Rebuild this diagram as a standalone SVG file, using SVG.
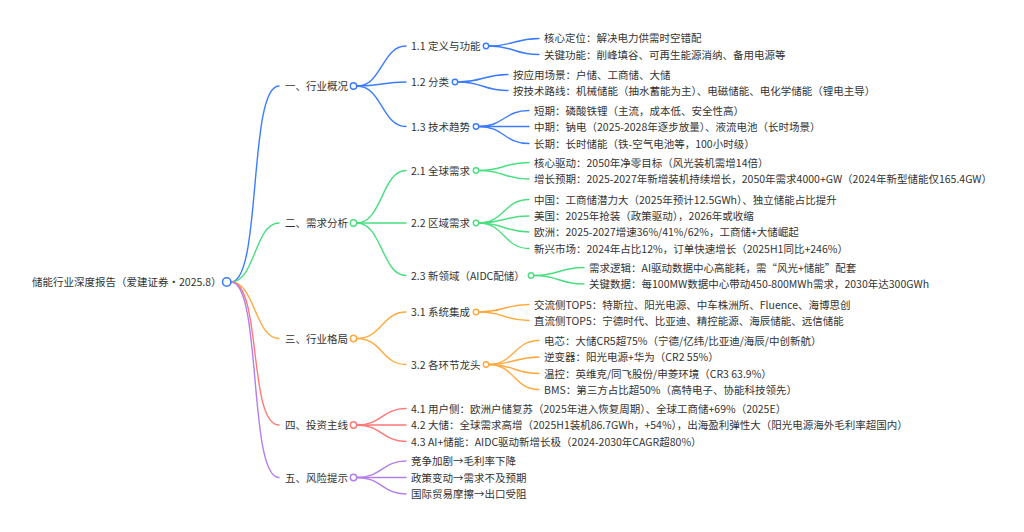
<svg xmlns="http://www.w3.org/2000/svg" width="1024" height="532" viewBox="0 0 1024 532">
<style>
text{font-family:"Noto Sans CJK SC","Noto Sans",sans-serif;font-size:10.5px;fill:#333}
path{fill:none;stroke-width:1.4;stroke-linecap:round}
circle{fill:#fff;stroke-width:1.4}
.b{stroke:#3b7cff}.g{stroke:#4ade80}.o{stroke:#ffa940}.r{stroke:#ff7875}.p{stroke:#b37feb}
</style>
<rect width="1024" height="532" fill="#fff"/>
<g id="connectors">
<path class="b" d="M231 282C262 282 248 86 279 86"/>
<path class="g" d="M231 282C255 282 255 223 279 223"/>
<path class="o" d="M231 282C255 282 255 338.500 279 338.500"/>
<path class="r" d="M231 282C262 282 248 425 279 425"/>
<path class="p" d="M231 282C262 282 248 477.500 279 477.500"/>
<path class="b" d="M357 86C382 86 382 46 406 46"/><path class="b" d="M357 86C382 86 382 82 406 82"/><path class="b" d="M357 86C382 86 382 126.500 406 126.500"/>
<path class="g" d="M357 223C382 223 382 170.500 406 170.500"/><path class="g" d="M357 223H406"/><path class="g" d="M357 223C382 223 382 275.500 406 275.500"/>
<path class="o" d="M357 338.500C382 338.500 382 312 406 312"/><path class="o" d="M357 338.500C382 338.500 382 364.500 406 364.500"/>
<path class="r" d="M357 425C382 425 382 408.500 406 408.500"/><path class="r" d="M357 425H406"/><path class="r" d="M357 425C382 425 382 441.500 406 441.500"/>
<path class="p" d="M357 477.500C382 477.500 382 461 406 461"/><path class="p" d="M357 477.500H406"/><path class="p" d="M357 477.500C382 477.500 382 494 406 494"/>
<path class="b" d="M489 46C514 46 514 38.500 539 38.500"/><path class="b" d="M489 46C514 46 514 54.500 539 54.500"/>
<path class="b" d="M458 82C483 82 483 74.500 508 74.500"/><path class="b" d="M458 82C483 82 483 90.500 508 90.500"/>
<path class="b" d="M479 126.500C504 126.500 504 110.500 529 110.500"/><path class="b" d="M479 126.500H529"/><path class="b" d="M479 126.500C504 126.500 504 143.500 529 143.500"/>
<path class="g" d="M479 170.500C504 170.500 504 162.500 529 162.500"/><path class="g" d="M479 170.500C504 170.500 504 179 529 179"/>
<path class="g" d="M479 223C504 223 504 199.500 529 199.500"/><path class="g" d="M479 223C504 223 504 216 529 216"/><path class="g" d="M479 223C504 223 504 232 529 232"/><path class="g" d="M479 223C504 223 504 248.500 529 248.500"/>
<path class="g" d="M534 275.500C559 275.500 559 267.500 584 267.500"/><path class="g" d="M534 275.500C559 275.500 559 284 584 284"/>
<path class="o" d="M479 312C504 312 504 304.500 529 304.500"/><path class="o" d="M479 312C504 312 504 320.500 529 320.500"/>
<path class="o" d="M489 364.500C514 364.500 514 340.500 539 340.500"/><path class="o" d="M489 364.500C514 364.500 514 357 539 357"/><path class="o" d="M489 364.500C514 364.500 514 373.500 539 373.500"/><path class="o" d="M489 364.500C514 364.500 514 389.500 539 389.500"/>
</g>
<g id="root"><text x="32" y="286">储能行业深度报告（爱建证券·2025.8）</text><circle class="b" cx="226.700" cy="282" r="4.200" style="stroke-width:1.6"/></g>
<g id="n1"><text x="285" y="90">一、行业概况</text><circle class="b" cx="353.500" cy="86" r="3.200"/></g>
<g id="n11"><text x="411" y="50">1.1 定义与功能</text><circle class="b" cx="486" cy="46" r="2.700"/></g>
<g id="n111"><text x="544" y="42">核心定位：解决电力供需时空错配</text></g>
<g id="n112"><text x="544" y="58.500">关键功能：削峰填谷、可再生能源消纳、备用电源等</text></g>
<g id="n12"><text x="411" y="86">1.2 分类</text><circle class="b" cx="455" cy="82" r="2.700"/></g>
<g id="n121"><text x="513" y="78.500">按应用场景：户储、工商储、大储</text></g>
<g id="n122"><text x="513" y="94.500">按技术路线：机械储能（抽水蓄能为主）、电磁储能、电化学储能（锂电主导）</text></g>
<g id="n13"><text x="411" y="130.500">1.3 技术趋势</text><circle class="b" cx="476" cy="126.500" r="2.700"/></g>
<g id="n131"><text x="534" y="114.500">短期：磷酸铁锂（主流，成本低、安全性高）</text></g>
<g id="n132"><text x="534" y="131">中期：钠电（2025-2028年逐步放量）、液流电池（长时场景）</text></g>
<g id="n133"><text x="534" y="147.500">长期：长时储能（铁-空气电池等，100小时级）</text></g>
<g id="n2"><text x="285" y="227">二、需求分析</text><circle class="g" cx="353.500" cy="223" r="3.200"/></g>
<g id="n21"><text x="411" y="174.500">2.1 全球需求</text><circle class="g" cx="476" cy="170.500" r="2.700"/></g>
<g id="n211"><text x="534" y="166.500">核心驱动：2050年净零目标（风光装机需增14倍）</text></g>
<g id="n212"><text x="534" y="183">增长预期：2025-2027年新增装机持续增长，2050年需求4000+GW（2024年新型储能仅165.4GW）</text></g>
<g id="n22"><text x="411" y="227">2.2 区域需求</text><circle class="g" cx="476" cy="223" r="2.700"/></g>
<g id="n221"><text x="534" y="203.500">中国：工商储潜力大（2025年预计12.5GWh）、独立储能占比提升</text></g>
<g id="n222"><text x="534" y="220">美国：2025年抢装（政策驱动），2026年或收缩</text></g>
<g id="n223"><text x="534" y="236">欧洲：2025-2027增速36%/41%/62%，工商储+大储崛起</text></g>
<g id="n224"><text x="534" y="252.500">新兴市场：2024年占比12%，订单快速增长（2025H1同比+246%）</text></g>
<g id="n23"><text x="411" y="279.500">2.3 新领域（AIDC配储）</text><circle class="g" cx="531" cy="275.500" r="2.700"/></g>
<g id="n231"><text x="589" y="271.500">需求逻辑：AI驱动数据中心高能耗，需“风光+储能”配套</text></g>
<g id="n232"><text x="589" y="288">关键数据：每100MW数据中心带动450-800MWh需求，2030年达300GWh</text></g>
<g id="n3"><text x="285" y="342.500">三、行业格局</text><circle class="o" cx="353.500" cy="338.500" r="3.200"/></g>
<g id="n31"><text x="411" y="316">3.1 系统集成</text><circle class="o" cx="476" cy="312" r="2.700"/></g>
<g id="n311"><text x="534" y="308.500">交流侧TOP5：特斯拉、阳光电源、中车株洲所、Fluence、海博思创</text></g>
<g id="n312"><text x="534" y="324.500">直流侧TOP5：宁德时代、比亚迪、精控能源、海辰储能、远信储能</text></g>
<g id="n32"><text x="411" y="368.500">3.2 各环节龙头</text><circle class="o" cx="486" cy="364.500" r="2.700"/></g>
<g id="n321"><text x="544" y="344.500">电芯：大储CR5超75%（宁德/亿纬/比亚迪/海辰/中创新航）</text></g>
<g id="n322"><text x="544" y="361">逆变器：阳光电源+华为（CR2 55%）</text></g>
<g id="n323"><text x="544" y="377.500">温控：英维克/同飞股份/申菱环境（CR3 63.9%）</text></g>
<g id="n324"><text x="544" y="393.500">BMS：第三方占比超50%（高特电子、协能科技领先）</text></g>
<g id="n4"><text x="285" y="429">四、投资主线</text><circle class="r" cx="353.500" cy="425" r="3.200"/></g>
<g id="n41"><text x="411" y="412.500">4.1 用户侧：欧洲户储复苏（2025年进入恢复周期）、全球工商储+69%（2025E）</text></g>
<g id="n42"><text x="411" y="429">4.2 大储：全球需求高增（2025H1装机86.7GWh，+54%），出海盈利弹性大（阳光电源海外毛利率超国内）</text></g>
<g id="n43"><text x="411" y="445.500">4.3 AI+储能：AIDC驱动新增长极（2024-2030年CAGR超80%）</text></g>
<g id="n5"><text x="285" y="481.500">五、风险提示</text><circle class="p" cx="353.500" cy="477.500" r="3.200"/></g>
<g id="n51"><text x="411" y="465">竞争加剧→毛利率下降</text></g>
<g id="n52"><text x="411" y="481.500">政策变动→需求不及预期</text></g>
<g id="n53"><text x="411" y="498">国际贸易摩擦→出口受阻</text></g>
</svg>
